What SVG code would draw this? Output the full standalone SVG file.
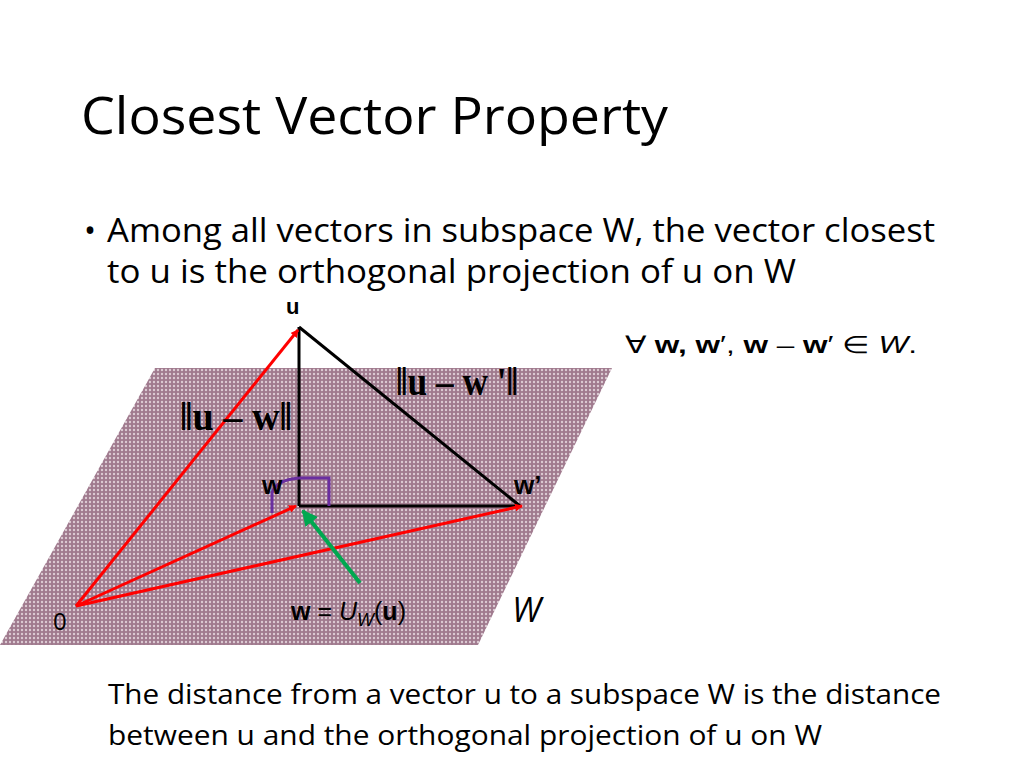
<svg xmlns="http://www.w3.org/2000/svg" width="1024" height="768" viewBox="0 0 1024 768">
<defs>
<pattern id="dots" width="4" height="4" patternUnits="userSpaceOnUse">
<rect width="4" height="4" fill="#a07a8e"/>
<circle cx="2" cy="2" r="1.2" fill="#dccad3"/>
</pattern>
<marker id="ar" markerWidth="8" markerHeight="8" refX="7" refY="4" orient="auto" markerUnits="userSpaceOnUse">
<path d="M0,0 L8,4 L0,8 z" fill="#ff0000"/>
</marker>
<marker id="ag" markerWidth="16" markerHeight="16" refX="14" refY="8" orient="auto" markerUnits="userSpaceOnUse">
<path d="M0,0 L16,8 L0,16 z" fill="#00a850"/>
</marker>
</defs>
<style>
.t{font-family:"Open Sans","Liberation Sans",sans-serif;fill:#000}
.b{font-family:"Liberation Sans",sans-serif;font-weight:bold;fill:#000}
.s{font-family:"Liberation Serif",serif;font-weight:bold;fill:#000}
.r{stroke:#ff0000;stroke-width:3;fill:none;marker-end:url(#ar)}
.k{stroke:#000;stroke-width:3;fill:none}
</style>
<rect width="1024" height="768" fill="#fff"/>
<text class="t" x="81" y="134" font-size="52" textLength="587" lengthAdjust="spacingAndGlyphs">Closest Vector Property</text>
<text class="t" x="84" y="242" font-size="32">•</text>
<text class="t" x="107" y="242" font-size="33" textLength="828" lengthAdjust="spacingAndGlyphs">Among all vectors in subspace W, the vector closest</text>
<text class="t" x="107" y="283" font-size="32" textLength="689" lengthAdjust="spacingAndGlyphs">to u is the orthogonal projection of u on W</text>
<g id="plane"><polygon points="155,368 612,368 478,645 0,645" fill="url(#dots)"/></g>
<g id="connectors">
<line class="k" x1="299" y1="327" x2="299" y2="506"/>
<line class="k" x1="299" y1="327" x2="520" y2="506"/>
<line class="k" x1="299" y1="506" x2="520" y2="506"/>
<path d="M299,478 H329 V506" stroke="#6a2ea0" stroke-width="3" fill="none"/>
<path d="M272,513 V493 Q276,480 299,478" stroke="#6a2ea0" stroke-width="3" fill="none"/>
<line class="r" x1="76" y1="606" x2="298" y2="330"/>
<line class="r" x1="76" y1="606" x2="296" y2="506"/>
<line class="r" x1="76" y1="606" x2="522" y2="506"/>
<line x1="360" y1="583" x2="303" y2="511" stroke="#00a850" stroke-width="4" marker-end="url(#ag)"/>
</g>
<g id="labels">
<text class="b" x="286" y="314" font-size="22">u</text>
<text class="b" x="262" y="494" font-size="26">w</text>
<text class="b" x="514" y="494" font-size="26">w’</text>
<text class="t" x="53" y="630" font-size="24">0</text>
<text class="t" x="512" y="622" font-size="34" font-style="italic">W</text>
<text x="291" y="620" font-size="25" font-family="Liberation Sans,sans-serif"><tspan font-weight="bold">w</tspan> = <tspan font-style="italic">U</tspan><tspan font-style="italic" font-size="18" dy="6">W</tspan><tspan dy="-6">(</tspan><tspan font-weight="bold">u</tspan>)</text>
<text class="s" x="180" y="430" font-size="40" textLength="112" lengthAdjust="spacingAndGlyphs">‖u – w‖</text>
<text class="s" x="396" y="395" font-size="40" textLength="122" lengthAdjust="spacingAndGlyphs">‖u – w '‖</text>
<text x="625" y="353" font-size="24" font-family="Liberation Sans,sans-serif" textLength="292" lengthAdjust="spacingAndGlyphs">∀ <tspan font-weight="bold">w, w</tspan>′, <tspan font-weight="bold">w</tspan> – <tspan font-weight="bold">w</tspan>′ ∈ <tspan font-style="italic">W</tspan>.</text>
</g>
<text class="t" x="108" y="704" font-size="28" textLength="833" lengthAdjust="spacingAndGlyphs">The distance from a vector u to a subspace W is the distance</text>
<text class="t" x="108" y="745" font-size="28" textLength="714" lengthAdjust="spacingAndGlyphs">between u and the orthogonal projection of u on W</text>
</svg>
